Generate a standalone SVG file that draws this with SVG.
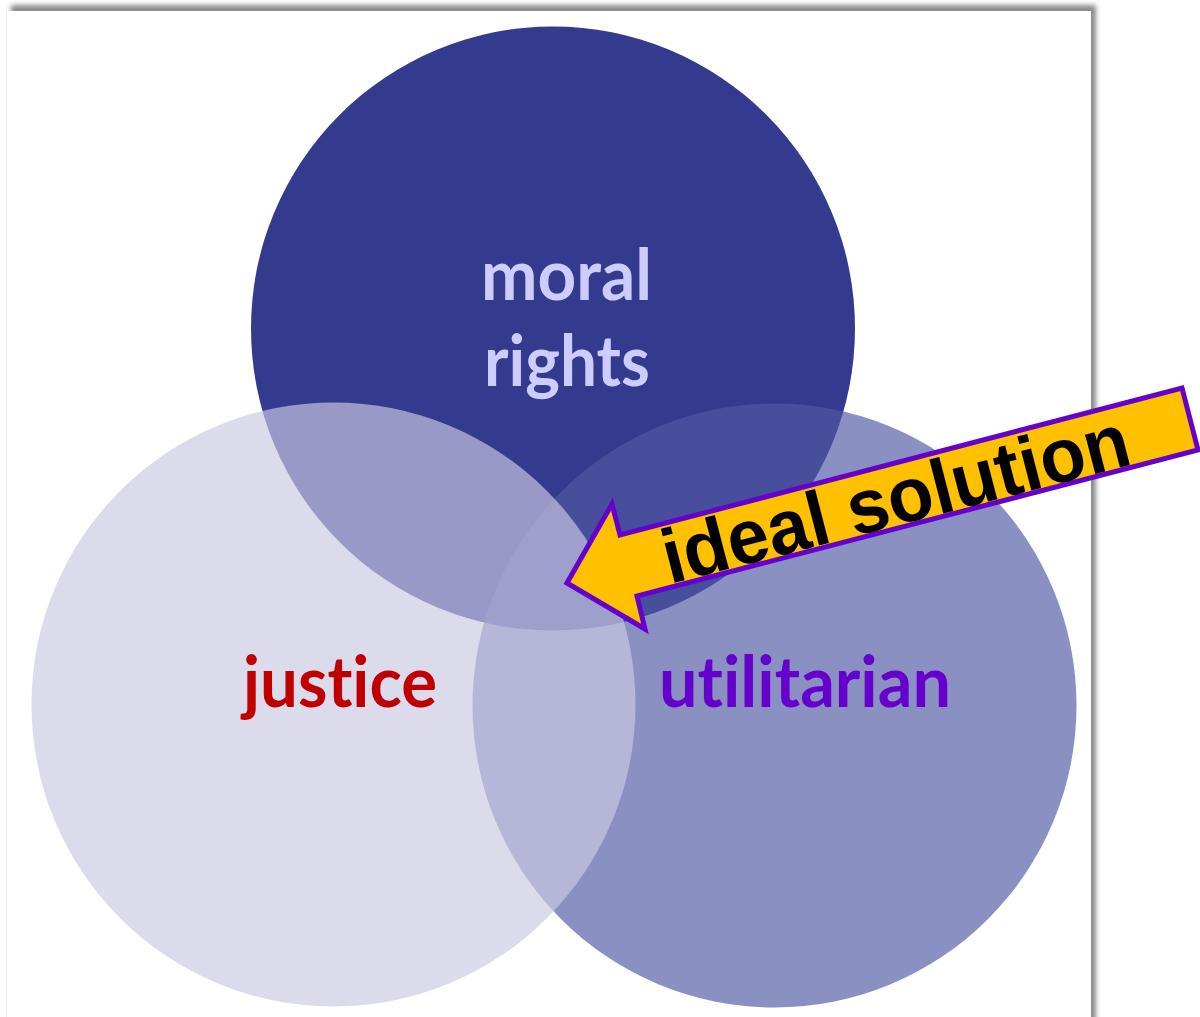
<svg xmlns="http://www.w3.org/2000/svg" width="1200" height="1017" viewBox="0 0 1200 1017">
  <defs>
    <filter id="pageShadow" x="-5%" y="-5%" width="110%" height="110%">
      <feGaussianBlur stdDeviation="2.6"/>
    </filter>
    <style>
      .label { font-family: "Lato", "Open Sans", "Liberation Sans", sans-serif; font-weight: bold; font-size: 70px; text-anchor: middle; font-variant-ligatures: none; font-feature-settings: "liga" 0, "clig" 0; }
      .arrow-text { font-family: "Liberation Sans", Arial, sans-serif; font-weight: bold; font-size: 77px; fill: #000000; text-anchor: middle; }
      .ring-top { fill: #343A8E; }
      .ring-right { fill: rgb(81,88,163); fill-opacity: 0.665; }
      .ring-left { fill: rgb(202,201,227); fill-opacity: 0.665; }
    </style>
  </defs>

  <!-- background and page sheet with its soft shadow -->
  <rect x="0" y="0" width="1200" height="1017" fill="#ffffff"/>
  <rect x="11" y="5" width="1085" height="1030" fill="#8a8a8a" filter="url(#pageShadow)"/>
  <rect x="6" y="11" width="1085" height="1020" fill="#ffffff"/>
  <line x1="6.5" y1="11" x2="6.5" y2="1017" stroke="#ececec" stroke-width="1"/>

  <!-- Venn circles -->
  <g id="moral-rights">
    <circle class="ring-top" cx="553" cy="328.5" r="302"/>
  </g>
  <g id="utilitarian">
    <circle class="ring-right" cx="774.5" cy="705.5" r="302"/>
  </g>
  <g id="justice">
    <circle class="ring-left" cx="333.5" cy="704.5" r="302"/>
  </g>

  <!-- circle labels -->
  <g id="labels">
    <text class="label" x="566.5" y="300" fill="#CCCCFF" textLength="171" lengthAdjust="spacingAndGlyphs">moral</text>
    <text class="label" x="567" y="386" fill="#CCCCFF" textLength="166" lengthAdjust="spacingAndGlyphs">rights</text>
    <text class="label" x="340" y="707" fill="#C00000" textLength="194" lengthAdjust="spacingAndGlyphs">justice</text>
    <text class="label" x="805" y="707" fill="#6600CC" textLength="292" lengthAdjust="spacingAndGlyphs">utilitarian</text>
  </g>

  <!-- callout arrow pointing at the shared centre -->
  <g id="connectors">
    <g id="ideal-solution">
      <polygon points="567,583 612,504 620,535 1182,388 1198,450 637,596 645,629"
               fill="#FFC000" stroke="#6600CC" stroke-width="5" stroke-linejoin="miter"/>
      <text class="arrow-text" transform="translate(902,524) rotate(-14.5)" x="0" y="0" textLength="480" lengthAdjust="spacingAndGlyphs">ideal solution</text>
    </g>
  </g>
</svg>
